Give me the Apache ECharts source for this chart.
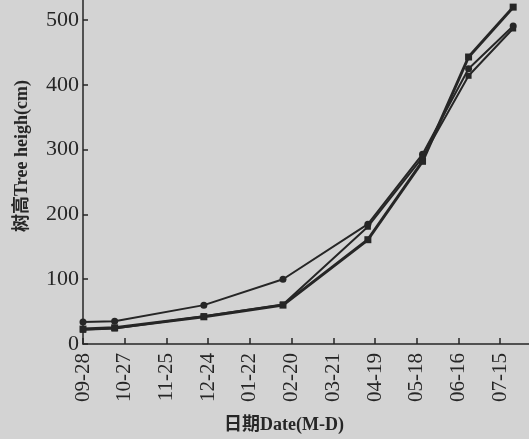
<!DOCTYPE html>
<html><head><meta charset="utf-8">
<script src="https://cdn.jsdelivr.net/npm/echarts@6/dist/echarts.min.js"></script>
<style>html,body{margin:0;padding:0;background:#d3d3d3;}#c{width:529px;height:439px;}</style>
</head><body><div id="c"></div>
<script>
// x: days after 09-28
const sampleDays = [0, 22, 84, 139, 198, 236, 268, 299];
const tickDays = [0, 29, 58, 87, 116, 145, 174, 203, 232, 261, 290];
const tickLabels = ['09-28','10-27','11-25','12-24','01-22','02-20','03-21','04-19','05-18','06-16','07-15'];
const seriesA = [34, 35, 60, 100, 185, 293, 425, 491];
const seriesB = [23, 25, 42, 60, 161, 282, 443, 520];
const seriesC = [22, 24, 43, 61, 181, 288, 414, 487];
const yTicks = [0, 100, 200, 300, 400, 500];

const font = '"Liberation Serif","Noto Sans CJK SC",serif';
const ink = '#262626';
function pts(vals){ return vals.map((v,i)=>[sampleDays[i], v]); }
const chart = echarts.init(document.getElementById('c'), null, {renderer:'canvas'});
chart.setOption({
  backgroundColor: '#d3d3d3',
  animation: false,
  grid: {left: 83, right: 0, top: 0, bottom: 93},
  xAxis: {
    type: 'value', min: 0, max: 310, interval: 29,
    name: '日期Date(M-D)', nameLocation: 'middle', nameGap: 72,
    nameTextStyle: {fontFamily: font, fontSize: 18, fontWeight: 'bold', color: ink, padding: [0, 44, 0, 0]},
    axisLine: {lineStyle: {color: ink, width: 1.5}},
    axisTick: {inside: true, length: 6, customValues: tickDays, lineStyle: {color: ink, width: 1.5}},
    axisLabel: {rotate: 90, margin: 9, fontFamily: font, fontSize: 21, color: ink, customValues: tickDays,
      formatter: v => { const i = tickDays.indexOf(Math.round(v)); return i >= 0 ? tickLabels[i] : ''; }},
    splitLine: {show: false}
  },
  yAxis: {
    type: 'value', min: 0, max: 531, interval: 100,
    name: '树高Tree heigh(cm)', nameLocation: 'middle', nameGap: 52, nameRotate: 90,
    nameTextStyle: {fontFamily: font, fontSize: 18, fontWeight: 'bold', color: ink, padding: [0, 0, 0, 32]},
    axisLine: {show: true, lineStyle: {color: ink, width: 1.5}},
    axisTick: {show: true, inside: true, length: 5, customValues: yTicks, lineStyle: {color: ink, width: 1.5}},
    axisLabel: {margin: 4, fontFamily: font, fontSize: 22, color: ink, customValues: yTicks,
      formatter: v => yTicks.includes(v) ? String(v) : ''},
    splitLine: {show: false}
  },
  series: [
    {type: 'line', data: pts(seriesA), symbol: 'circle', symbolSize: 7, lineStyle: {color: ink, width: 2}, itemStyle: {color: ink}},
    {type: 'line', data: pts(seriesB), symbol: 'rect', symbolSize: 7, lineStyle: {color: ink, width: 3}, itemStyle: {color: ink}},
    {type: 'line', data: pts(seriesC), symbol: 'rect', symbolSize: 6, lineStyle: {color: ink, width: 2}, itemStyle: {color: ink}}
  ]
});
</script></body></html>
